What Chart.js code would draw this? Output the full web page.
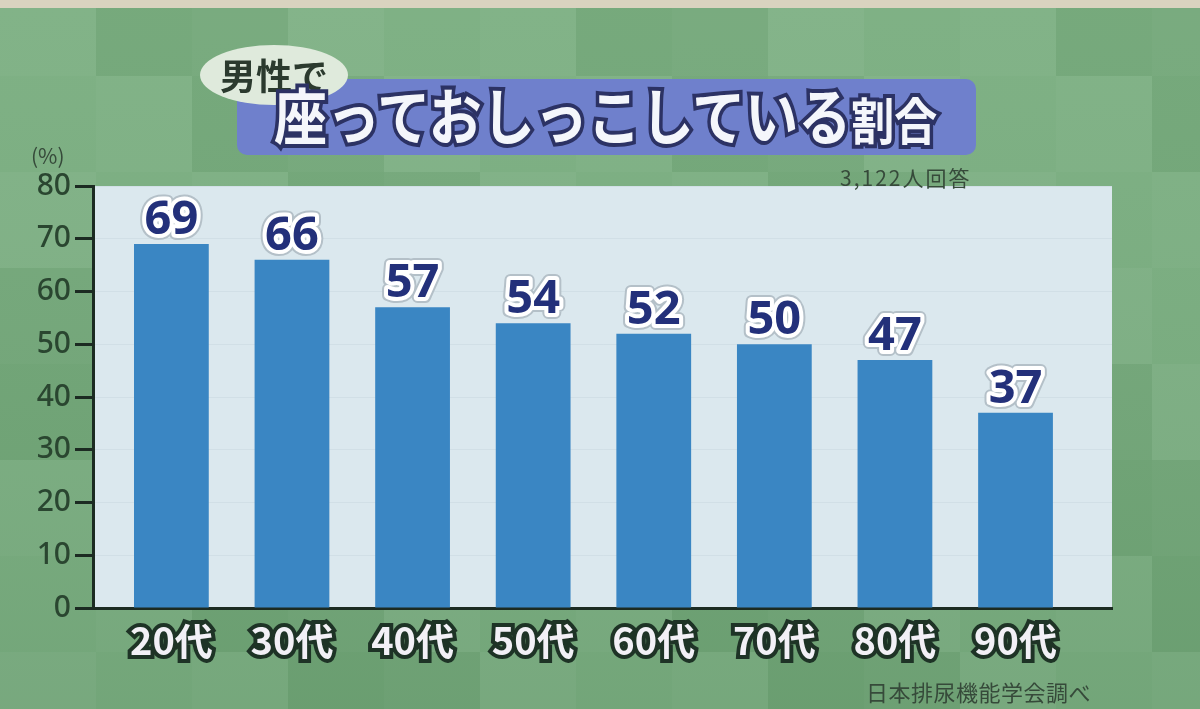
<!DOCTYPE html>
<html lang="ja">
<head>
<meta charset="utf-8">
<script src="https://cdn.jsdelivr.net/npm/chart.js@4.4.1/dist/chart.umd.min.js"></script>
<style>
  html, body { margin: 0; padding: 0; background: #78ad7e; }
  #wrap { position: relative; width: 1200px; height: 709px; overflow: hidden; }
  canvas { position: absolute; left: 0; top: 0; }
  .txt { position: absolute; font-family: "Noto Sans CJK JP", sans-serif; white-space: nowrap; }
  #bubble { left: 200px; top: 45px; width: 148px; height: 60px; border-radius: 50%; background: #dfeadc;
            font-size: 36px; font-weight: bold; color: #2b3a2e; text-align: center; line-height: 58px; }
  #titlebox { left: 237px; top: 79px; width: 739px; height: 76px; border-radius: 10px; background: #6f80cc; }
  #title { left: 274px; top: 76px; font-size: 53px; font-weight: bold; color: #f4f6fb; line-height: 76px;
           -webkit-text-stroke: 7px #2c3264; paint-order: stroke fill; transform-origin: left center; transform: scale(1, 1.15); }
  #title small { font-size: 43px; }
  #resp { left: 840px; top: 162px; font-size: 21px; color: #364a3a; letter-spacing: 2px; }
  #unit { left: 31px; top: 140px; font-size: 21px; color: #364a3a; }
  #src { left: 866px; top: 675px; font-size: 22px; color: #364a3a; letter-spacing: 0.5px; }
  #strip { position: absolute; left: 0; top: 0; width: 1200px; height: 8px; background: #d9d3bf; }
</style>
</head>
<body>
<div id="wrap">
  <canvas id="chart" width="1200" height="709"></canvas>
  <div id="strip"></div>
  <div class="txt" id="titlebox"></div>
  <div class="txt" id="bubble">男性で</div>
  <div class="txt" id="title">座っておしっこしている<small>割合</small></div>
  <div class="txt" id="resp">3,122人回答</div>
  <div class="txt" id="unit">(%)</div>
  <div class="txt" id="src">日本排尿機能学会調べ</div>
</div>
<script>
// 年代と割合（%）
const ageGroups = ['20代', '30代', '40代', '50代', '60代', '70代', '80代', '90代'];
const sitShare = [69, 66, 57, 54, 52, 50, 47, 37];
const yTicks = [0, 10, 20, 30, 40, 50, 60, 70, 80];

// 背景（緑のモザイク）とプロット領域
const backdrop = {
  id: 'backdrop',
  beforeDraw(chart) {
    const ctx = chart.ctx;
    ctx.save();
    ctx.fillStyle = '#78ad7e';
    ctx.fillRect(0, 0, chart.width, chart.height);
    const size = 96;
    for (let r = 0; r < 8; r++) {
      for (let c = 0; c < 13; c++) {
        const k = (r * 7 + c * 3) % 5;
        ctx.fillStyle = ['rgba(255,255,255,0.04)', 'rgba(0,40,0,0.03)', 'rgba(255,255,255,0.015)', 'rgba(0,40,0,0.05)', 'rgba(255,255,255,0.06)'][k];
        ctx.fillRect(c * size, r * size - 20, size, size);
      }
    }
    // 下の方は少し暗め
    const g = ctx.createLinearGradient(0, 0, 0, chart.height);
    g.addColorStop(0, 'rgba(255,255,255,0.04)');
    g.addColorStop(1, 'rgba(0,30,10,0.06)');
    ctx.fillStyle = g;
    ctx.fillRect(0, 0, chart.width, chart.height);
    const a = chart.chartArea;
    ctx.fillStyle = '#dbe8ee';
    ctx.fillRect(a.left, a.top, a.right - a.left, a.bottom - a.top);
    ctx.restore();
  }
};

// バー上の数値ラベル
const valueLabels = {
  id: 'valueLabels',
  afterDatasetsDraw(chart) {
    const ctx = chart.ctx;
    const meta = chart.getDatasetMeta(0);
    ctx.save();
    ctx.font = 'bold 47px "Noto Sans", sans-serif';
    ctx.textAlign = 'center';
    ctx.textBaseline = 'alphabetic';
    ctx.lineJoin = 'round';
    meta.data.forEach((bar, i) => {
      const t = String(sitShare[i]);
      const y = bar.y - 10;
      ctx.strokeStyle = '#b4c0c8';
      ctx.lineWidth = 12;
      ctx.strokeText(t, bar.x, y);
      ctx.strokeStyle = '#ffffff';
      ctx.lineWidth = 8;
      ctx.strokeText(t, bar.x, y);
      ctx.fillStyle = '#23307a';
      ctx.fillText(t, bar.x, y);
    });
    ctx.restore();
  }
};

new Chart(document.getElementById('chart').getContext('2d'), {
  type: 'bar',
  data: {
    datasets: [{
      data: sitShare.map((v, i) => ({ x: i, y: v })),
      backgroundColor: '#3a86c3',
      borderWidth: 0,
      barPercentage: 0.62,
      categoryPercentage: 1.0
    }]
  },
  options: {
    responsive: false,
    animation: false,
    events: [],
    layout: { padding: { left: 0, right: 88, top: 186, bottom: 0 } },
    plugins: { legend: { display: false }, tooltip: { enabled: false } },
    scales: {
      x: {
        type: 'linear',
        min: -0.65,
        max: 7.8,
        offset: false,
        afterFit(scale) { scale.height = 101; },
        afterBuildTicks(scale) { scale.ticks = ageGroups.map((_, i) => ({ value: i })); },
        grid: { display: false, drawTicks: false },
        border: { display: true, color: '#1c2b22', width: 3 },
        ticks: {
          padding: 10,
          color: '#f2f0f6',
          textStrokeColor: '#1e3326',
          textStrokeWidth: 8,
          callback: v => ageGroups[v],
          font: { family: '"Noto Sans CJK JP", sans-serif', size: 38, weight: 'bold' }
        }
      },
      y: {
        min: 0,
        max: 80,
        afterFit(scale) { scale.width = 93; },
        afterBuildTicks(scale) { scale.ticks = yTicks.map(v => ({ value: v })); },
        grid: {
          drawOnChartArea: true,
          color: 'rgba(170,190,200,0.2)',
          tickColor: '#1c2b22',
          tickLength: 18,
          tickWidth: 3
        },
        border: { display: true, color: '#1c2b22', width: 3 },
        ticks: {
          padding: 4,
          color: '#2a4630',
          font: { family: '"Noto Sans", sans-serif', size: 30, weight: '500' }
        }
      }
    }
  },
  plugins: [backdrop, valueLabels]
});
</script>
</body>
</html>
